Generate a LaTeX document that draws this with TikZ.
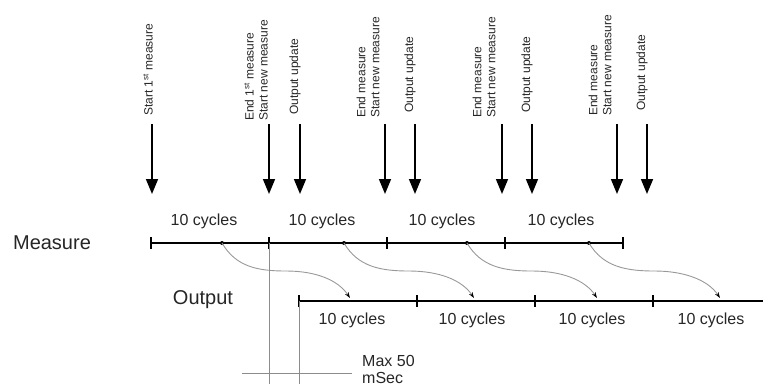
\documentclass[tikz,border=0pt]{standalone}
\usepackage{fontspec}
\setmainfont{Liberation Sans}
\usetikzlibrary{arrows.meta}
\begin{document}
\begin{tikzpicture}[x=1pt,y=-1pt,
  vlabel/.style={rotate=90,anchor=west,inner sep=0pt,align=left,text=black!85,font=\fontsize{12}{14}\selectfont},
  cyc/.style={inner sep=0pt,text=black!85,font=\fontsize{16}{18}\selectfont},
  rowlabel/.style={inner sep=0pt,text=black!85,font=\fontsize{20}{22}\selectfont},
  evarrow/.style={line width=1.6pt,-{Triangle[width=12pt,length=15pt]}},
  timeline/.style={line width=2.6pt},
  tickmark/.style={line width=2pt},
  dotmark/.style={circle,fill=black,inner sep=0pt,minimum size=4pt},
  flow/.style={draw=black!40,line width=0.9pt,-{Stealth[length=6pt,width=4pt,black]}},
  guide/.style={draw=black!45,line width=0.8pt}
]
\useasboundingbox (0,0) rectangle (763,388);

% ---- event labels (rotated) ----
\node[vlabel] (l1) at (148,116) {Start 1\textsuperscript{st} measure};
\node[vlabel] (l2) at (256,121) {End 1\textsuperscript{st} measure\\Start new measure};
\node[vlabel] (l3) at (295,115) {Output update};
\node[vlabel] (l4) at (368,118) {End measure\\Start new measure};
\node[vlabel] (l5) at (410,113) {Output update};
\node[vlabel] (l6) at (484,118) {End measure\\Start new measure};
\node[vlabel] (l7) at (527,113) {Output update};
\node[vlabel] (l8) at (600,116) {End measure\\Start new measure};
\node[vlabel] (l9) at (642,111) {Output update};

% ---- event arrows ----
\foreach \n/\x in {1/152,2/269,3/300,4/385,5/415,6/502,7/532,8/617,9/647}{
  \coordinate (as\n) at (\x,124);
  \coordinate (ae\n) at (\x,194);
  \draw[evarrow] (as\n) -- (ae\n);
}

% ---- row labels ----
\node[rowlabel] (measure) at (52,243) {Measure};
\node[rowlabel] (output) at (203,300) {Output};

% ---- measure timeline ----
\foreach \n/\x in {0/151,1/269,2/387,3/505,4/623}{
  \coordinate (m\n) at (\x,243);
  \draw[tickmark] (\x,237) -- (\x,249);
}
\draw[timeline] (m0) -- (m4);
\foreach \n/\x in {1/222,2/344,3/467,4/589}{
  \node[dotmark] (d\n) at (\x,243) {};
}
\foreach \x in {204,322,442,561}{
  \node[cyc] at (\x,221) {10 cycles};
}

% ---- output timeline ----
\foreach \n/\x in {0/299,1/417,2/535,3/653}{
  \coordinate (o\n) at (\x,301);
  \draw[tickmark] (\x,295) -- (\x,307);
}
\coordinate (oend) at (763,301);
\draw[timeline] (o0) -- (oend);
\foreach \x in {352,472,592,711}{
  \node[cyc] at (\x,320) {10 cycles};
}

% ---- transfer curves ----
\foreach \n/\a/\b in {1/222/350,2/344/474,3/467/597,4/589/720}{
  \coordinate (t\n) at (\b,298);
  \coordinate (h\n) at ({(\a+\b)/2},271);
  \draw[flow] (d\n.center) .. controls +(14,24) and +(-28,0) .. (h\n)
              .. controls +(30,0) and +(-12,-18) .. (t\n);
}

% ---- max 50 msec dimension ----
\coordinate (g1t) at (269,243);
\coordinate (g1b) at (269,384);
\coordinate (g2t) at (299,301);
\coordinate (g2b) at (299,384);
\coordinate (hl) at (242,373);
\coordinate (hr) at (352,373);
\draw[guide] (g1t) -- (g1b);
\draw[guide] (g2t) -- (g2b);
\draw[guide] (hl) -- (hr);
\node[cyc,anchor=north west,align=left,font=\fontsize{16}{17}\selectfont] (max) at (362,355) {Max 50\\mSec};
\end{tikzpicture}
\end{document}
